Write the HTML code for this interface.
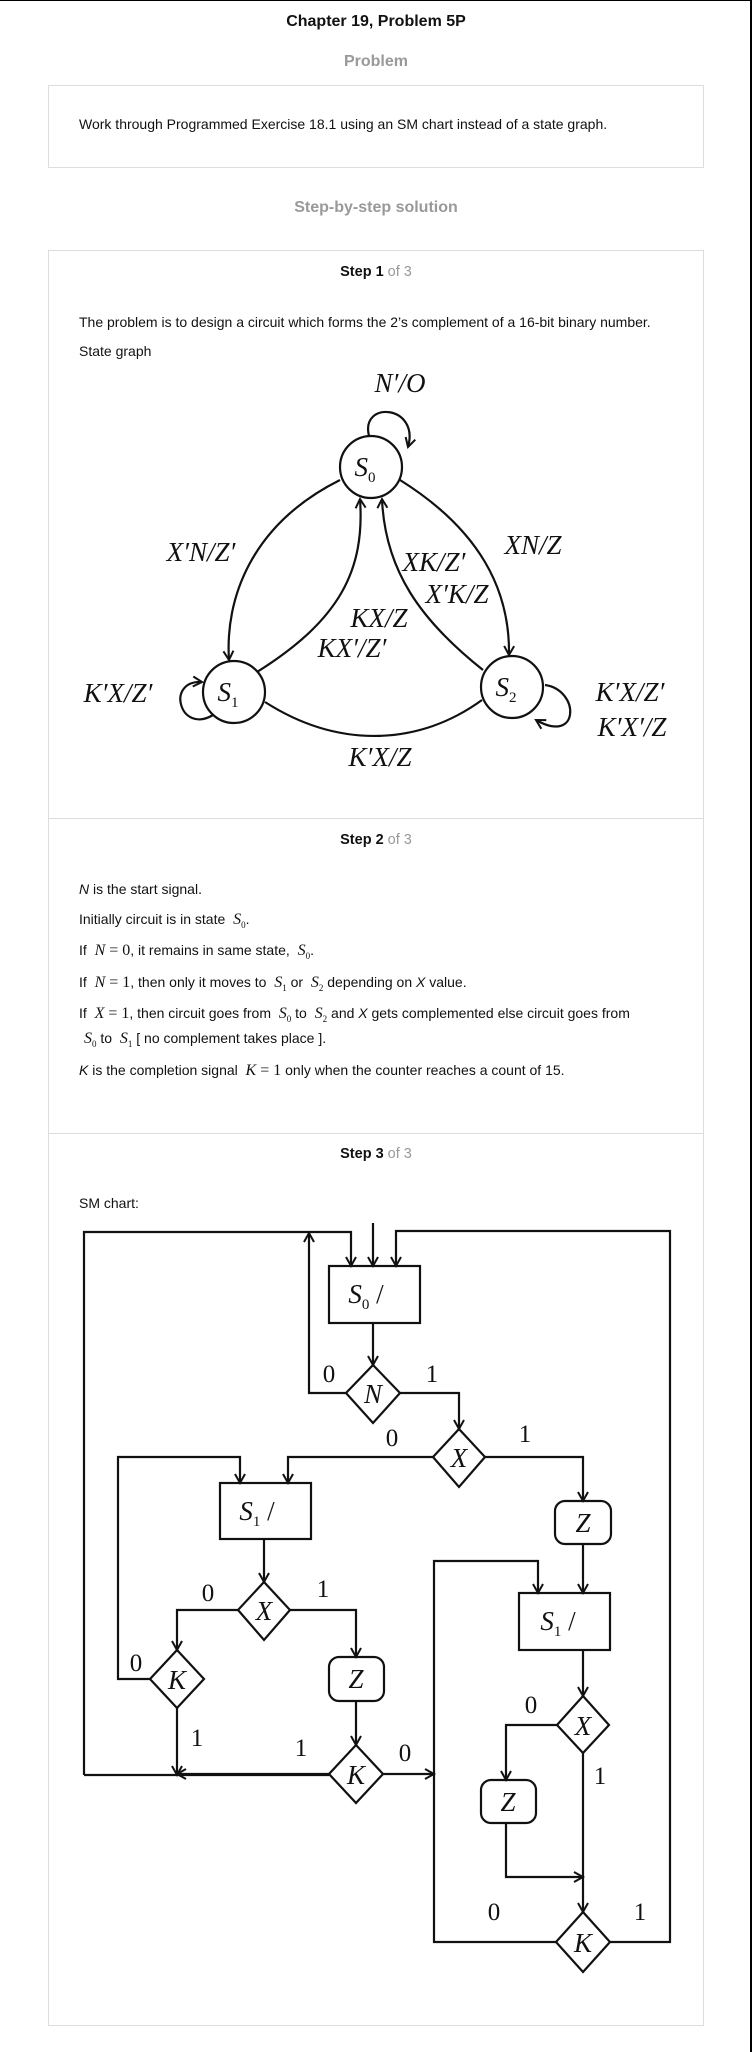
<!DOCTYPE html>
<html><head><meta charset="utf-8"><style>
html,body{margin:0;padding:0;background:#fff;}
body{width:752px;height:2052px;position:relative;overflow:hidden;font-family:"Liberation Sans",sans-serif;color:#111;}
.t{position:absolute;font-size:14px;white-space:nowrap;line-height:16px;}
.c{position:absolute;left:0;width:752px;text-align:center;white-space:nowrap;}
.m{font-family:"Liberation Serif",serif;font-style:italic;font-size:16px;}
.n{font-family:"Liberation Serif",serif;font-size:16px;}
sub{font-size:9px;font-family:"Liberation Serif",serif;font-style:normal;}
.g{color:#999;font-weight:normal;}
</style></head><body>
<div style="position:absolute;left:0;top:0;width:752px;height:1px;background:#000"></div>
<div style="position:absolute;left:750px;top:0;width:2px;height:2052px;background:#000"></div>

<div class="c" style="top:13px;font-size:16px;font-weight:bold;">Chapter 19, Problem 5P</div>
<div class="c" style="top:53px;font-size:16px;font-weight:bold;color:#999;">Problem</div>
<div style="position:absolute;left:48px;top:85px;width:654px;height:81px;border:1px solid #ddd;"></div>
<div class="t" style="left:79px;top:116px;">Work through Programmed Exercise 18.1 using an SM chart instead of a state graph.</div>
<div class="c" style="top:199px;font-size:16px;font-weight:bold;color:#999;">Step-by-step solution</div>

<div style="position:absolute;left:48px;top:250px;width:654px;height:1774px;border:1px solid #ddd;"></div>
<div style="position:absolute;left:49px;top:818px;width:654px;height:1px;background:#ddd;"></div>
<div style="position:absolute;left:49px;top:1133px;width:654px;height:1px;background:#ddd;"></div>

<div class="c" style="top:264px;font-size:14.5px;"><b>Step 1</b> <span class="g">of 3</span></div>
<div class="t" style="left:79px;top:314px;">The problem is to design a circuit which forms the 2’s complement of a 16-bit binary number.</div>
<div class="t" style="left:79px;top:343px;">State graph</div>

<div class="c" style="top:832px;font-size:14.5px;"><b>Step 2</b> <span class="g">of 3</span></div>
<div class="t" style="left:79px;top:881px;"><i>N</i> is the start signal.</div>
<div class="t" style="left:79px;top:911px;">Initially circuit is in state &nbsp;<span class="m">S</span><sub>0</sub>.</div>
<div class="t" style="left:79px;top:942px;">If &nbsp;<span class="m">N</span><span class="n"> = 0</span>, it remains in same state, &nbsp;<span class="m">S</span><sub>0</sub>.</div>
<div class="t" style="left:79px;top:974px;">If &nbsp;<span class="m">N</span><span class="n"> = 1</span>, then only it moves to &nbsp;<span class="m">S</span><sub>1</sub> or &nbsp;<span class="m">S</span><sub>2</sub> depending on <i>X</i> value.</div>
<div class="t" style="left:79px;top:1005px;">If &nbsp;<span class="m">X</span><span class="n"> = 1</span>, then circuit goes from &nbsp;<span class="m">S</span><sub>0</sub> to &nbsp;<span class="m">S</span><sub>2</sub> and <i>X</i> gets complemented else circuit goes from</div>
<div class="t" style="left:84px;top:1030px;"><span class="m">S</span><sub>0</sub> to &nbsp;<span class="m">S</span><sub>1</sub> [ no complement takes place ].</div>
<div class="t" style="left:79px;top:1062px;"><i>K</i> is the completion signal &nbsp;<span class="m">K</span><span class="n"> = 1</span> only when the counter reaches a count of 15.</div>

<div class="c" style="top:1146px;font-size:14.5px;"><b>Step 3</b> <span class="g">of 3</span></div>
<div class="t" style="left:79px;top:1195px;">SM chart:</div>

<svg width="752" height="2052" style="position:absolute;left:0;top:0" xmlns="http://www.w3.org/2000/svg">
<defs>
<marker id="a" markerWidth="14" markerHeight="14" refX="10" refY="6" orient="auto" markerUnits="userSpaceOnUse">
<polyline points="1,1 10,6 1,11" fill="none" stroke="#111" stroke-width="2"/>
</marker>
</defs>
<g fill="none" stroke="#111" stroke-width="2.2">
<circle cx="371" cy="467" r="31"/>
<circle cx="234" cy="692" r="31"/>
<circle cx="512" cy="687" r="31"/>
<path d="M369,436 C360,400 420,405 408,447" marker-end="url(#a)"/>
<path d="M340,480 C250,525 225,600 229,660" marker-end="url(#a)"/>
<path d="M257,672 C340,620 365,570 360,499" marker-end="url(#a)"/>
<path d="M400,480 C480,530 510,590 509,655" marker-end="url(#a)"/>
<path d="M483,670 C420,620 385,570 382,499" marker-end="url(#a)"/>
<path d="M265,702 C340,750 420,745 482,700"/>
<path d="M213,715 C180,735 165,680 202,682" marker-end="url(#a)"/>
<path d="M545,685 C580,690 580,745 536,720" marker-end="url(#a)"/>

<rect x="329" y="1266" width="91" height="57"/>
<rect x="220" y="1483" width="91" height="56"/>
<rect x="519" y="1593" width="91" height="57"/>
<rect x="555" y="1501" width="56" height="43" rx="10"/>
<rect x="329" y="1657" width="55" height="44" rx="10"/>
<rect x="481" y="1780" width="55" height="43" rx="10"/>
<polygon points="373,1365 400,1393 373,1423 346,1393"/>
<polygon points="459,1429 485,1457 459,1487 433,1457"/>
<polygon points="264,1582 290,1610 264,1640 238,1610"/>
<polygon points="177,1650 204,1679 177,1708 150,1679"/>
<polygon points="356,1745 383,1774 356,1803 329,1774"/>
<polygon points="583,1696 609,1725 583,1753 557,1725"/>
<polygon points="583,1912 610,1942 583,1972 556,1942"/>

<path d="M373,1223 V1266" marker-end="url(#a)"/>
<path d="M84,1775 V1232 H351 V1266" marker-end="url(#a)"/>
<path d="M346,1393 H309 V1233" marker-end="url(#a)"/>
<path d="M610,1942 H670 V1231 H396 V1266" marker-end="url(#a)"/>
<path d="M373,1323 V1365" marker-end="url(#a)"/>
<path d="M400,1393 H459 V1429" marker-end="url(#a)"/>
<path d="M433,1457 H288 V1483" marker-end="url(#a)"/>
<path d="M150,1679 H118 V1457 H240 V1483" marker-end="url(#a)"/>
<path d="M485,1457 H583 V1501" marker-end="url(#a)"/>
<path d="M264,1539 V1582" marker-end="url(#a)"/>
<path d="M238,1610 H177 V1650" marker-end="url(#a)"/>
<path d="M290,1610 H356 V1657" marker-end="url(#a)"/>
<path d="M177,1708 V1775" marker-end="url(#a)"/>
<path d="M84,1775 H329"/>
<path d="M329,1774 H177" marker-end="url(#a)"/>
<path d="M356,1701 V1745" marker-end="url(#a)"/>
<path d="M383,1774 H434" marker-end="url(#a)"/>
<path d="M583,1544 V1593" marker-end="url(#a)"/>
<path d="M556,1942 H434 V1561 H538 V1593" marker-end="url(#a)"/>
<path d="M583,1650 V1696" marker-end="url(#a)"/>
<path d="M557,1725 H506 V1780" marker-end="url(#a)"/>
<path d="M506,1823 V1877 H583" marker-end="url(#a)"/>
<path d="M583,1753 V1912" marker-end="url(#a)"/>
</g>
<g font-family="Liberation Serif, serif" font-style="italic" font-size="27" fill="#111">
<text x="400" y="392" text-anchor="middle">N′/O</text>
<text x="365" y="476" text-anchor="middle">S<tspan font-size="15" font-style="normal" dy="6">0</tspan></text>
<text x="228" y="701" text-anchor="middle">S<tspan font-size="15" font-style="normal" dy="6">1</tspan></text>
<text x="506" y="696" text-anchor="middle">S<tspan font-size="15" font-style="normal" dy="6">2</tspan></text>
<text x="201" y="561" text-anchor="middle">X′N/Z′</text>
<text x="533" y="554" text-anchor="middle">XN/Z</text>
<text x="434" y="571" text-anchor="middle">XK/Z′</text>
<text x="457" y="603" text-anchor="middle">X′K/Z</text>
<text x="379" y="627" text-anchor="middle">KX/Z</text>
<text x="352" y="657" text-anchor="middle">KX′/Z′</text>
<text x="118" y="702" text-anchor="middle">K′X/Z′</text>
<text x="630" y="701" text-anchor="middle">K′X/Z′</text>
<text x="632" y="736" text-anchor="middle">K′X′/Z</text>
<text x="380" y="766" text-anchor="middle">K′X/Z</text>

<text x="366" y="1303" text-anchor="middle">S<tspan font-size="15" font-style="normal" dy="6">0</tspan><tspan dy="-6" font-style="normal"> /</tspan></text>
<text x="257" y="1520" text-anchor="middle">S<tspan font-size="15" font-style="normal" dy="6">1</tspan><tspan dy="-6" font-style="normal"> /</tspan></text>
<text x="558" y="1630" text-anchor="middle">S<tspan font-size="15" font-style="normal" dy="6">1</tspan><tspan dy="-6" font-style="normal"> /</tspan></text>
<text x="583" y="1532" text-anchor="middle">Z</text>
<text x="356" y="1688" text-anchor="middle">Z</text>
<text x="508" y="1811" text-anchor="middle">Z</text>
<text x="373" y="1403" text-anchor="middle">N</text>
<text x="459" y="1467" text-anchor="middle">X</text>
<text x="264" y="1620" text-anchor="middle">X</text>
<text x="177" y="1689" text-anchor="middle">K</text>
<text x="356" y="1784" text-anchor="middle">K</text>
<text x="583" y="1735" text-anchor="middle">X</text>
<text x="583" y="1952" text-anchor="middle">K</text>
</g>
<g font-family="Liberation Serif, serif" font-size="25" fill="#111" text-anchor="middle">
<text x="329" y="1382">0</text><text x="432" y="1382">1</text>
<text x="392" y="1446">0</text><text x="525" y="1442">1</text>
<text x="208" y="1601">0</text><text x="323" y="1597">1</text>
<text x="136" y="1671">0</text><text x="197" y="1746">1</text>
<text x="301" y="1756">1</text><text x="405" y="1761">0</text>
<text x="531" y="1713">0</text><text x="600" y="1784">1</text>
<text x="494" y="1920">0</text><text x="640" y="1920">1</text>
</g>
</svg>
</body></html>
